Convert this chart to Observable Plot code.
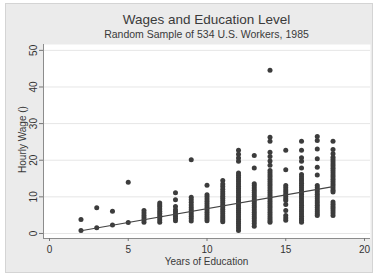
<!DOCTYPE html>
<html><head><meta charset="utf-8">
<script src="https://cdn.jsdelivr.net/npm/d3@7"></script>
<script src="https://cdn.jsdelivr.net/npm/@observablehq/plot@0.6"></script>
<style>
body{margin:0;background:#fff;font-family:"Liberation Sans",Arial,sans-serif;}
#wrap{position:relative;width:376px;height:275px;overflow:hidden;}
#frame{position:absolute;left:5px;top:3px;width:368px;height:270px;background:#ebebeb;border:1px solid #d4d4d4;box-sizing:border-box;}
#chart{position:absolute;left:0;top:0;}
.t{position:absolute;text-align:center;color:#3a3a3a;white-space:nowrap;}
</style></head>
<body>
<div id="wrap">
  <div id="frame"></div>
  <div id="chart"></div>
  <div class="t" style="left:0;width:413px;top:12px;font-size:13.5px;">Wages and Education Level</div>
  <div class="t" style="left:0;width:413px;top:28px;font-size:10.5px;">Random Sample of 534 U.S. Workers, 1985</div>
  <div class="t" style="left:0;width:413px;top:256px;font-size:10px;">Years of Education</div>
  <div class="t" style="left:-78px;width:200px;top:134px;font-size:10px;transform:rotate(-90deg);">Hourly Wage ()</div>
</div>
<script>
const educLevels = [2, 3, 4, 5, 6, 7, 8, 9, 10, 11, 12, 13, 14, 15, 16, 17, 18];
const wageColumns = [
  [0.8, 3.8],
  [1.55, 7.0],
  [2.3, 6.1],
  [3.0, 14.0],
  [3.1, 3.7, 4.3, 4.9, 5.6, 6.3],
  [3.1, 3.7, 4.3, 4.9, 5.5, 6.1, 6.7, 7.3, 7.8, 8.3],
  [3.5, 4.1, 4.7, 5.3, 5.9, 6.5, 7.4, 9.2, 11.1],
  [20.1, 9.9, 9.2, 8.5, 7.8, 7.1, 6.5, 5.9, 5.3, 4.7, 4.1, 3.4],
  [13.2, 10.6, 10.0, 9.4, 8.8, 8.2, 7.6, 7.0, 6.4, 5.8, 5.2, 4.6, 4.0, 3.5],
  [14.5, 13.5, 12.8, 12.1, 11.4, 10.8, 10.2, 9.6, 9.0, 8.4, 7.8, 7.2, 6.6, 6.0, 5.4, 4.8, 4.2, 3.7, 3.2],
  [22.7, 21.6, 20.6, 19.7, 16.5, 15.9, 15.3, 14.7, 14.1, 13.5, 12.9, 12.3, 11.7, 11.1, 10.5, 9.9, 9.3, 8.7, 8.1, 7.5, 6.9, 6.3, 5.7, 5.1, 4.5, 3.9, 3.3, 2.7, 2.1, 1.5, 0.8],
  [21.3, 17.9, 13.6, 13.0, 12.4, 11.8, 11.2, 10.6, 10.0, 9.4, 8.8, 8.2, 7.6, 7.0, 6.4, 5.8, 5.2, 4.6, 4.0, 3.4, 2.7, 2.0],
  [44.6, 26.3, 25.2, 22.2, 21.0, 19.8, 18.6, 17.2, 16.6, 16.0, 15.4, 14.8, 14.2, 13.6, 13.0, 12.4, 11.8, 11.2, 10.6, 10.0, 9.4, 8.8, 8.2, 7.6, 7.0, 6.4, 5.8, 5.2, 4.6, 4.0, 3.5, 3.1],
  [22.7, 17.4, 13.1, 12.5, 11.9, 11.3, 10.7, 10.1, 9.5, 9.0, 7.9, 6.3, 4.9, 4.2, 3.6],
  [25.2, 22.7, 20.7, 19.7, 17.9, 16.1, 15.5, 14.9, 14.3, 13.7, 13.1, 12.5, 11.9, 11.3, 10.7, 10.1, 9.5, 8.9, 8.3, 7.7, 7.1, 6.5, 5.9, 5.3, 4.7, 4.1, 3.6, 3.1],
  [26.5, 25.4, 23.1, 20.4, 18.1, 16.0, 13.1, 12.5, 11.9, 11.3, 10.7, 10.1, 9.5, 8.9, 8.3, 7.7, 7.1, 6.5, 5.9, 5.4, 4.9],
  [25.2, 22.9, 21.8, 20.8, 20.2, 19.6, 19.0, 18.4, 17.8, 17.2, 16.6, 16.0, 15.4, 14.8, 14.2, 13.6, 13.0, 12.4, 11.8, 11.3, 8.6, 8.0, 7.4, 6.8, 6.2, 5.6, 4.9]
];
const fitEduc = [2, 18];
const fitWage = [0.75, 12.8];
const xTicks = [0, 5, 10, 15, 20];
const yTicks = [0, 10, 20, 30, 40, 50];
const xDomain = [-0.38, 20.38];
const yDomain = [-1.37, 51.6];

const points = educLevels.flatMap((e, i) => wageColumns[i].map(w => ({educ: e, wage: w})));
const fit = fitEduc.map((e, i) => ({educ: e, wage: fitWage[i]}));

const chart = Plot.plot({
  width: 376, height: 275,
  marginLeft: 43, marginRight: 6, marginTop: 44, marginBottom: 37,
  style: {background: "transparent", fontFamily: "Liberation Sans, Arial, sans-serif"},
  x: {domain: xDomain},
  y: {domain: yDomain},
  marks: [
    Plot.frame({fill: "white", stroke: "none"}),
    Plot.gridY(yTicks, {stroke: "#e6e6e6", strokeOpacity: 1}),
    Plot.ruleX([xDomain[0]], {stroke: "#8c8c8c"}),
    Plot.ruleY([yDomain[0]], {stroke: "#8c8c8c"}),
    Plot.axisX({ticks: xTicks, tickSize: 3, tickPadding: 4, fontSize: 10, label: null, stroke: "#777", fill: "#333"}),
    Plot.axisY({ticks: yTicks, tickSize: 4, tickFormat: () => "", label: null, stroke: "#777"}),
    Plot.text(yTicks, {y: d => d, frameAnchor: "left", dx: -10, rotate: -90, textAnchor: "middle", lineAnchor: "middle", fontSize: 10, fill: "#333"}),
    Plot.dot(points, {x: "educ", y: "wage", r: 2.5, fill: "#3c3c3c", stroke: "none"}),
    Plot.line(fit, {x: "educ", y: "wage", stroke: "#444", strokeWidth: 1.2})
  ]
});
document.getElementById("chart").appendChild(chart);
</script>
</body></html>
